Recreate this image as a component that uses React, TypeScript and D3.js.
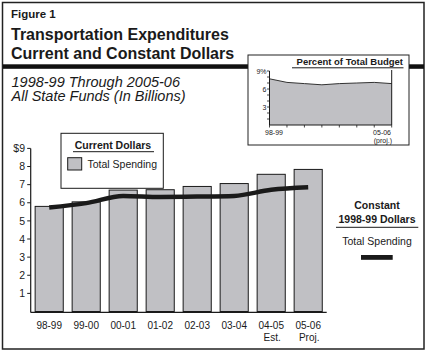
import React from "react";
import * as d3 from "d3";

// Fiscal years along the bottom of the main chart
const years = ["98-99", "99-00", "00-01", "01-02", "02-03", "03-04", "04-05", "05-06"];
const yearNotes = ["", "", "", "", "", "", "Est.", "Proj."];

// Current dollars (bars), billions
const currentDollars = [5.8, 6.05, 6.7, 6.72, 6.9, 7.06, 7.57, 7.84];
// Constant 1998-99 dollars (line), billions
const constantDollars = [5.74, 5.98, 6.38, 6.32, 6.34, 6.38, 6.72, 6.86];
// Inset: percent of total budget
const percentOfBudget = [7.7, 7.1, 6.9, 6.7, 6.9, 7.0, 7.1, 6.9];

const mainTicks = [1, 2, 3, 4, 5, 6, 7, 8, 9];
const insetTicks = [1, 2, 3, 4, 5, 6, 7, 8, 9];
const insetLabels = [3, 6, 9];

const FONT = "'Liberation Sans', Arial, Helvetica, sans-serif";
const BAR_FILL = "#c0c0c4";
const INK = "#1a1a1a";

// Main chart frame
const plot = { left: 30.7, right: 326.7, top: 148.4, bottom: 311.5 };
// Inset chart frame
const inset = { left: 269.5, right: 391.7, top: 71, bottom: 125 };

export default function App() {
  const x = d3
    .scaleBand<string>()
    .domain(years)
    .range([plot.left, plot.right])
    .paddingInner(0.24)
    .paddingOuter(0.12);
  const y = d3.scaleLinear().domain([0, 9]).range([plot.bottom, plot.top]);

  const line = d3
    .line<number>()
    .x((_, i) => (x(years[i]) as number) + x.bandwidth() / 2)
    .y((d) => y(d))
    .curve(d3.curveMonotoneX);

  const ix = d3.scalePoint<string>().domain(years).range([inset.left, inset.right]);
  const iy = d3.scaleLinear().domain([0, 9]).range([inset.bottom, inset.top]);
  const area = d3
    .area<number>()
    .x((_, i) => ix(years[i]) as number)
    .y0(iy(0))
    .y1((d) => iy(d));
  const areaTop = d3
    .line<number>()
    .x((_, i) => ix(years[i]) as number)
    .y((d) => iy(d));

  return (
    <svg
      width={427}
      height={353}
      style={{ position: "absolute", left: 0, top: 0, background: "#fff" }}
      fontFamily={FONT}
    >
      {/* outer frame */}
      <rect x={2.5} y={2.5} width={421.5} height={346.5} fill="none" stroke="#222" strokeWidth={1.5} />

      {/* headings */}
      <text x={11} y={17.5} fontSize={11.5} fontWeight="bold" fill={INK}>Figure 1</text>
      <text x={11} y={39.5} fontSize={16} fontWeight="bold" fill={INK}>Transportation Expenditures</text>
      <text x={11} y={58.5} fontSize={16} fontWeight="bold" fill={INK}>Current and Constant Dollars</text>
      <rect x={3} y={64.3} width={421} height={4.5} fill="#111" />
      <text x={11.5} y={86.7} fontSize={14.5} fontStyle="italic" fill={INK}>1998-99 Through 2005-06</text>
      <text x={11.5} y={101.3} fontSize={14.5} fontStyle="italic" fill={INK}>All State Funds (In Billions)</text>

      {/* inset: percent of total budget */}
      <rect x={248} y={55} width={161} height={90} fill="#fff" stroke="#222" strokeWidth={1} />
      <text x={403} y={65} fontSize={9.5} fontWeight="bold" textAnchor="end" fill={INK}>Percent of Total Budget</text>
      <line x1={292} x2={403.5} y1={67.8} y2={67.8} stroke={INK} strokeWidth={1} />
      <path d={area(percentOfBudget) ?? ""} fill={BAR_FILL} />
      <path d={areaTop(percentOfBudget) ?? ""} fill="none" stroke="#333" strokeWidth={1} />
      <line x1={inset.left} x2={inset.left} y1={inset.top} y2={inset.bottom} stroke={INK} />
      <line x1={inset.right} x2={inset.right} y1={inset.top - 1} y2={inset.bottom} stroke={INK} />
      <line x1={inset.left} x2={inset.right} y1={inset.bottom} y2={inset.bottom} stroke={INK} />
      {insetTicks.map((t) => (
        <line key={`it-${t}`} x1={inset.left - 2.5} x2={inset.left} y1={iy(t)} y2={iy(t)} stroke={INK} strokeWidth={0.8} />
      ))}
      {insetLabels.map((t) => (
        <text key={`il-${t}`} x={inset.left - 3} y={iy(t) + 2.5} fontSize={7} textAnchor="end" fill={INK}>
          {t === 9 ? "9%" : t}
        </text>
      ))}
      {years.map((yr) => (
        <line key={`ix-${yr}`} x1={ix(yr)} x2={ix(yr)} y1={inset.bottom} y2={inset.bottom + 2.5} stroke={INK} strokeWidth={0.8} />
      ))}
      <text x={274} y={134.5} fontSize={7} textAnchor="middle" fill={INK}>98-99</text>
      <text x={391} y={134.5} fontSize={7} textAnchor="end" fill={INK}>05-06</text>
      <text x={392} y={143} fontSize={7} textAnchor="end" fill={INK}>(proj.)</text>

      {/* main chart bars */}
      {currentDollars.map((v, i) => (
        <rect
          key={`bar-${years[i]}`}
          x={x(years[i])}
          y={y(v)}
          width={x.bandwidth()}
          height={plot.bottom - y(v)}
          fill={BAR_FILL}
          stroke={INK}
          strokeWidth={1}
        />
      ))}

      {/* constant dollars line */}
      <path d={line(constantDollars) ?? ""} fill="none" stroke={INK} strokeWidth={4.5} />

      {/* axes */}
      <line x1={plot.left} x2={plot.left} y1={plot.top} y2={plot.bottom + 1} stroke={INK} strokeWidth={1.2} />
      <line x1={plot.left} x2={plot.right} y1={plot.bottom + 0.8} y2={plot.bottom + 0.8} stroke={INK} strokeWidth={1.2} />
      {mainTicks.map((t) => (
        <g key={`yt-${t}`}>
          <line x1={plot.left - 3.5} x2={plot.left} y1={y(t)} y2={y(t)} stroke={INK} />
          <text x={25} y={y(t) + 3.7} fontSize={10.5} textAnchor="end" fill={INK}>
            {t === 9 ? "$9" : t}
          </text>
        </g>
      ))}
      {years.map((yr, i) => (
        <g key={`xl-${yr}`}>
          <text x={(x(yr) as number) + x.bandwidth() / 2} y={329} fontSize={10} textAnchor="middle" fill={INK}>{yr}</text>
          {yearNotes[i] && (
            <text x={(x(yr) as number) + x.bandwidth() / 2 + 1} y={341} fontSize={10} textAnchor="middle" fill={INK}>
              {yearNotes[i]}
            </text>
          )}
        </g>
      ))}

      {/* current dollars legend */}
      <rect x={61} y={133.3} width={102.3} height={55} fill="#fff" stroke={INK} strokeWidth={1} />
      <text x={113} y={148.5} fontSize={10.5} fontWeight="bold" textAnchor="middle" fill={INK}>Current Dollars</text>
      <line x1={73} x2={154} y1={151.7} y2={151.7} stroke={INK} strokeWidth={1} />
      <rect x={67.7} y={157.7} width={14} height={12.3} fill={BAR_FILL} stroke={INK} strokeWidth={1} />
      <text x={87.5} y={167.7} fontSize={10.5} fill={INK}>Total Spending</text>

      {/* constant dollars legend */}
      <text x={377} y={209} fontSize={10.5} fontWeight="bold" textAnchor="middle" fill={INK}>Constant</text>
      <text x={377} y={222.7} fontSize={10.5} fontWeight="bold" textAnchor="middle" fill={INK}>1998-99 Dollars</text>
      <line x1={336} x2={418.3} y1={227.3} y2={227.3} stroke={INK} strokeWidth={1} />
      <text x={377} y={245} fontSize={10.5} textAnchor="middle" fill={INK}>Total Spending</text>
      <rect x={361} y={255} width={31.7} height={4.8} fill={INK} />
    </svg>
  );
}
